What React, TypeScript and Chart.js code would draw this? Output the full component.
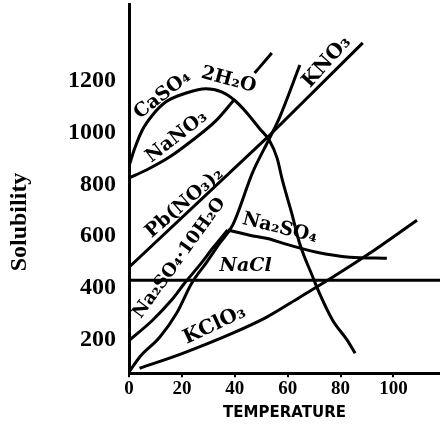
import React, { useEffect, useRef } from 'react';
import { Chart, registerables } from 'chart.js';

Chart.register(...registerables);

// Arch curve (CaSO4·2H2O)
const archTemps = [0, 2, 5, 9, 14, 22, 29, 35, 40, 44.5, 49.5, 53, 56, 58, 61.5, 64.5, 69.5, 72, 77, 82.5, 85.5];
const archSol = [800, 865, 940, 1000, 1050, 1085, 1100, 1088, 1055, 1008, 945, 902, 832, 747, 620, 503, 372, 310, 205, 128, 77];

// NaNO3 (gap where the "O" is written)
const nano3Temps = [0, 6.6, 15.3, 24.1, 33.1, 40, 44, 47.5, 54];
const nano3Sol: (number | null)[] = [755, 786, 836, 902, 979, 1061, null, 1161, 1239];

// Pb(NO3)2 / KNO3 straight line
const pbTemps = [0, 52.5, 88.4];
const pbSol = [410, 914, 1278];

// Steep curve from origin
const steepTemps = [0, 4, 11.6, 18, 23.7, 29.4, 34.3, 39.2, 46.8, 53.2, 57, 64.6];
const steepSol = [4, 62, 139, 232, 348, 430, 503, 573, 778, 910, 991, 1192];

// Na2SO4·10H2O
const decaTemps = [0.2, 8.9, 16.1, 21, 26.7, 32, 37.3];
const decaSol = [128, 205, 283, 348, 418, 488, 554];

// Na2SO4
const na2so4Temps = [37.3, 45.6, 53.2, 58.1, 71, 83.5, 97.5];
const na2so4Sol = [554, 534, 519, 503, 468, 449, 445];

// NaCl
const naclTemps = [0, 117.6];
const naclSol = [360, 360];

// KClO3
const kclo3Temps = [4, 20.3, 39.2, 52.1, 64.6, 77.1, 90, 108.9];
const kclo3Sol = [19, 77, 155, 217, 294, 372, 457, 592];

// Tick labels
const xTickValues = [0, 20, 40, 60, 80, 100];
const yTickValues = [0, 200, 400, 600, 800, 1000, 1200];

const xTitle = 'TEMPERATURE';
const yTitle = 'Solubility';

// Curve labels, anchored in data units
const curveLabels = [
  { text: 'CaSO₄', t: 12.7, s: 1076, angle: -38, size: 19, italic: false },
  { text: '2H₂O', t: 37.7, s: 1134, angle: 15, size: 19, italic: false },
  { text: 'NaNO₃', t: 18.0, s: 914, angle: -38, size: 19, italic: false },
  { text: 'Pb(NO₃)₂', t: 21.0, s: 658, angle: -41, size: 19, italic: false },
  { text: 'Na₂SO₄·10H₂O', t: 19.1, s: 445, angle: -54, size: 18, italic: false },
  { text: 'Na₂SO₄', t: 57.0, s: 561, angle: 14, size: 19, italic: false },
  { text: 'NaCl', t: 44.1, s: 414, angle: 0, size: 19, italic: true },
  { text: 'KClO₃', t: 32.4, s: 186, angle: -25, size: 20, italic: false },
  { text: 'KNO₃', t: 74.8, s: 1204, angle: -48, size: 20, italic: false },
];

const toPoints = (xs: number[], ys: (number | null)[]) => xs.map((x, i) => ({ x, y: ys[i] }));

const labelPlugin = {
  id: 'curveLabels',
  afterDatasetsDraw(chart: any) {
    const { ctx, scales } = chart;
    ctx.save();
    ctx.fillStyle = '#000';
    ctx.textAlign = 'center';
    ctx.textBaseline = 'middle';
    for (const l of curveLabels) {
      const px = scales.x.getPixelForValue(l.t);
      const py = scales.y.getPixelForValue(l.s);
      ctx.save();
      ctx.translate(px, py);
      ctx.rotate((l.angle * Math.PI) / 180);
      ctx.font = `${l.italic ? 'italic ' : ''}bold ${l.size}px "DejaVu Serif"`;
      ctx.fillText(l.text, 0, 0);
      ctx.restore();
    }
    // vertical y-axis title
    const ty = scales.y.getPixelForValue(585);
    const tx = scales.y.left - 48;
    ctx.translate(tx, ty);
    ctx.rotate(-Math.PI / 2);
    ctx.font = 'bold 24px "Liberation Serif"';
    ctx.fillText(yTitle, 0, 0);
    ctx.restore();
  },
};

export default function App() {
  const ref = useRef<HTMLCanvasElement>(null);
  useEffect(() => {
    if (!ref.current) return;
    const line = (data: any[], tension = true) => ({
      data,
      borderColor: '#000',
      borderWidth: 3,
      pointRadius: 0,
      fill: false,
      spanGaps: false,
      cubicInterpolationMode: tension ? 'monotone' : 'default',
      tension: tension ? 0.4 : 0,
    });
    const chart = new Chart(ref.current, {
      type: 'line',
      data: {
        datasets: [
          { label: 'CaSO4·2H2O', ...line(toPoints(archTemps, archSol)) },
          { label: 'NaNO3', ...line(toPoints(nano3Temps, nano3Sol)) },
          { label: 'Pb(NO3)2', ...line(toPoints(pbTemps, pbSol), false) },
          { label: 'KNO3', ...line(toPoints(steepTemps, steepSol)) },
          { label: 'Na2SO4·10H2O', ...line(toPoints(decaTemps, decaSol)) },
          { label: 'Na2SO4', ...line(toPoints(na2so4Temps, na2so4Sol)) },
          { label: 'NaCl', ...line(toPoints(naclTemps, naclSol), false) },
          { label: 'KClO3', ...line(toPoints(kclo3Temps, kclo3Sol)) },
        ] as any,
      },
      options: {
        animation: false,
        responsive: true,
        maintainAspectRatio: false,
        layout: { autoPadding: false, padding: { left: 68, top: 4, right: 0, bottom: 0 } },
        plugins: { legend: { display: false }, tooltip: { enabled: false } },
        scales: {
          x: {
            type: 'linear',
            min: 0,
            max: 117.6,
            afterBuildTicks: (scale: any) => {
              scale.ticks = xTickValues.map((value) => ({ value }));
            },
            border: { display: true, color: '#000', width: 3 },
            grid: { drawOnChartArea: false, drawTicks: true, tickLength: 4, color: '#000', lineWidth: 2 },
            ticks: {
              padding: 0,
              color: '#000',
              font: { family: '"Liberation Serif"', size: 19, weight: 'bold' },
            },
            title: {
              display: true,
              text: xTitle,
              color: '#000',
              font: { family: '"DejaVu Sans"', size: 15, weight: 'bold' },
              padding: { top: 4, bottom: 3 },
            },
          },
          y: {
            type: 'linear',
            min: 0,
            max: 1428,
            afterBuildTicks: (scale: any) => {
              scale.ticks = yTickValues.map((value) => ({ value }));
            },
            border: { display: true, color: '#000', width: 3 },
            grid: { display: false, drawTicks: true, tickLength: 13 },
            ticks: {
              padding: 0,
              labelOffset: 18,
              color: '#000',
              font: { family: '"Liberation Serif"', size: 24, weight: 'bold', lineHeight: 0.34 },
              callback: (v: any) => (v === 0 ? '' : String(v)),
            },
          },
        },
      } as any,
      plugins: [labelPlugin],
    });
    return () => chart.destroy();
  }, []);
  return (
    <div style={{ position: 'fixed', left: 0, top: 0, width: 440, height: 425, background: '#fff' }}>
      <canvas ref={ref} />
    </div>
  );
}
